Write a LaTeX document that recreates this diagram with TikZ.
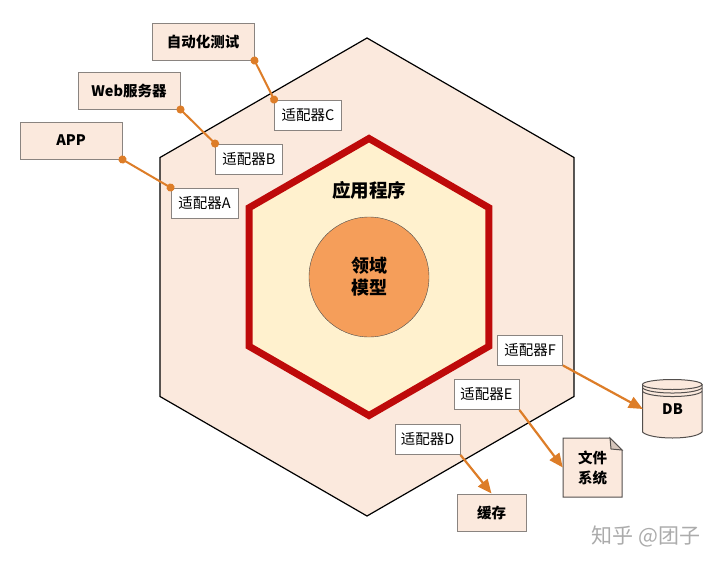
\documentclass[tikz,border=0pt]{standalone}
\usepackage{fontspec}
\setmainfont{Noto Sans CJK SC}
\usetikzlibrary{positioning}
\usetikzlibrary{arrows.meta}
\usetikzlibrary{shapes.geometric}
\definecolor{outerfill}{HTML}{FBE9DD}
\definecolor{innerfill}{HTML}{FFF1CE}
\definecolor{corefill}{HTML}{F59E5A}
\definecolor{hexred}{HTML}{BE0A0A}
\definecolor{linkorange}{HTML}{DD7D28}
\definecolor{boxgray}{HTML}{8A8480}

\begin{document}
\begin{tikzpicture}[x=1pt, y=-1pt,
outerhex/.style={regular polygon, regular polygon sides=6, regular polygon rotate=30, draw=black, fill=outerfill, line width=1.2pt, minimum size=478pt, inner sep=0pt},
innerhex/.style={regular polygon, regular polygon sides=6, regular polygon rotate=30, draw=hexred, fill=innerfill, line width=7pt, minimum size=277pt, inner sep=0pt},
corenode/.style={circle, draw=black!70, fill=corefill, thin, minimum size=120pt, inner sep=0pt, align=center, font=\fontsize{18}{22}\selectfont\bfseries},
clientnode/.style={rectangle, draw=boxgray, fill=outerfill, line width=1pt, minimum width=102pt, minimum height=37pt, inner sep=0pt, font=\fontsize{14.5}{18}\selectfont\bfseries},
adapternode/.style={rectangle, draw=boxgray, fill=white, line width=0.9pt, minimum width=67pt, minimum height=30pt, inner sep=0pt, font=\fontsize{14.5}{18}\selectfont},
storenode/.style={rectangle, inner sep=0pt, align=center, font=\fontsize{14.5}{20}\selectfont\bfseries},
inlink/.style={{Circle[length=8pt]}-{Circle[length=8pt]}, draw=linkorange, line width=2pt, shorten <=-4pt, shorten >=-4pt},
outlink/.style={-{Triangle[length=14pt, width=12pt]}, draw=linkorange, line width=2.2pt},
storeline/.style={draw=boxgray!60!black, line width=1pt}]
\useasboundingbox (0,0) rectangle (720,565);

\node[outerhex] (outer) at (367,277) {};
\node[innerhex] (inner) at (369,277) {};
\node[corenode] (core) at (369,277) {领域\\模型};
\node[font=\fontsize{18.5}{20}\selectfont\bfseries] (app name) at (369,190) {应用程序};

% left side
\node[clientnode] (test) at (203,41.5) {自动化测试};
\node[clientnode] (web) at (129,90.5) {Web服务器};
\node[clientnode] (phone) at (71,140.5) {APP};
\node[adapternode] (c) at (308,115) {适配器C};
\node[adapternode] (b) at (249,159) {适配器B};
\node[adapternode] (a) at (204.5,203) {适配器A};

\draw[inlink] (test.south east) -- (c.north west);
\draw[inlink] (web.south east) -- (b.north west);
\draw[inlink] (phone.south east) -- (a.north west);

% right side
\node[adapternode, minimum width=65pt] (f) at (530,350) {适配器F};
\node[adapternode, minimum width=65pt] (e) at (486.5,394.5) {适配器E};
\node[adapternode, minimum width=65pt] (d) at (427.5,439.5) {适配器D};

\node[clientnode, minimum width=69pt] (cache) at (491.5,512.5) {缓存};

\draw[storeline, fill=outerfill] (563,438) -- (610,438) -- (622,450) -- (622,497) -- (563,497) -- cycle;
\draw[storeline, fill=outerfill!85!black] (610,438) -- (611,449) -- (622,450) -- cycle;
\node[storenode, minimum width=59pt, minimum height=59pt] (file) at (592.5,467.5) {文件\\系统};

\draw[storeline, fill=outerfill] (642.5,384.5) -- (702,384.5) -- (702,432) .. controls (695,440) and (650,440) .. (642.5,432) -- cycle;
\draw[storeline, fill=outerfill] (672.25,384.5) ellipse [x radius=29.75pt, y radius=5pt];
\draw[storeline] (642.5,388) .. controls (650,394.7) and (695,394.7) .. (702,388);
\draw[storeline] (642.5,391.5) .. controls (650,398.2) and (695,398.2) .. (702,391.5);
\node[storenode, minimum width=59pt, minimum height=58pt] (db) at (672.5,409) {DB};

\draw[outlink] (f.south east) -- (db.west);
\draw[outlink] (e.south east) -- (file.west);
\draw[outlink] (d.south east) -- (cache.north);

\node[text=black!33, font=\fontsize{21}{24}\selectfont] (mark) at (646,536) {知乎 @团子};
\end{tikzpicture}
\end{document}
